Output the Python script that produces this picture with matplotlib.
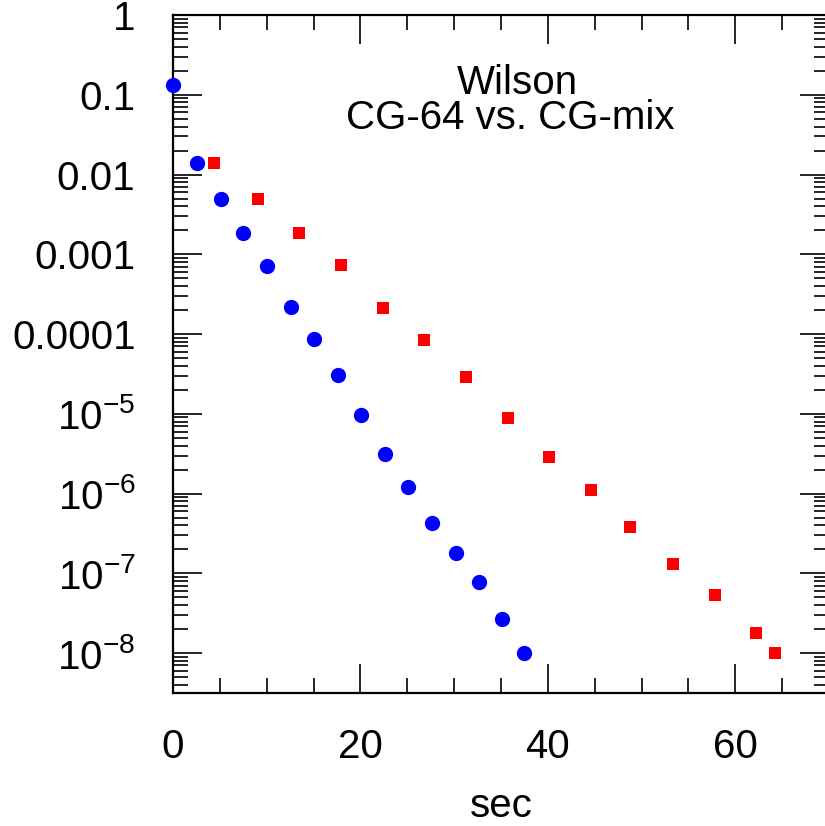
import math
import matplotlib
matplotlib.use("Agg")
import matplotlib.pyplot as plt
from matplotlib.ticker import FixedLocator, FuncFormatter, LogLocator, MultipleLocator

plt.rcParams['font.family'] = ['Liberation Sans', 'DejaVu Sans']
plt.rcParams['mathtext.fontset'] = 'custom'
plt.rcParams['mathtext.rm'] = 'Liberation Sans'
plt.rcParams['mathtext.default'] = 'regular'

# CG-64 (blue circles)
t64 = [0.0, 2.6, 5.1, 7.5, 10.0, 12.6, 15.0, 17.6, 20.1, 22.6, 25.1, 27.6, 30.2, 32.7, 35.1, 37.5]
r64 = [0.134, 0.0141, 0.0050, 0.00187, 7.2e-4, 2.2e-4, 8.7e-5, 3.1e-5, 9.7e-6, 3.1e-6,
       1.2e-6, 4.3e-7, 1.8e-7, 7.7e-8, 2.7e-8, 1.0e-8]
# CG-mix (red squares)
tmix = [4.4, 9.1, 13.4, 17.9, 22.4, 26.8, 31.3, 35.8, 40.1, 44.6, 48.8, 53.4, 57.8, 62.2, 64.2]
rmix = [0.014, 0.0050, 0.00187, 7.3e-4, 2.1e-4, 8.4e-5, 2.9e-5, 8.8e-6, 2.9e-6, 1.1e-6,
        3.8e-7, 1.3e-7, 5.3e-8, 1.8e-8, 1.0e-8]

title_lines = ["Wilson", "CG-64 vs. CG-mix"]
xlabel = "sec"

W, H = 825, 826
FS = 29
fig = plt.figure(figsize=(W / 100, H / 100), dpi=100)
ax = fig.add_axes([173 / W, (H - 693) / H, (829 - 173) / W, (693 - 15) / H])

ax.plot(t64, r64, 'o', color='#0000ff', markersize=11, markeredgewidth=0, clip_on=False, zorder=3)
ax.plot(tmix, rmix, 's', color='#ff0000', markersize=8.5, markeredgewidth=0, clip_on=False, zorder=3)

ax.set_yscale('log')
ax.set_xlim(0, 70)
ax.set_ylim(10 ** -8.5, 1)

ax.xaxis.set_major_locator(MultipleLocator(20))
ax.xaxis.set_minor_locator(MultipleLocator(5))
ax.yaxis.set_major_locator(FixedLocator([10.0 ** k for k in range(-8, 1)]))
ax.yaxis.set_minor_locator(LogLocator(base=10, subs=range(2, 10), numticks=30))


def yfmt(v, pos):
    names = {1: "1", 0.1: "0.1", 0.01: "0.01", 0.001: "0.001", 0.0001: "0.0001"}
    for k, s in names.items():
        if abs(v - k) < k * 1e-6:
            return s
    e = int(round(math.log10(v)))
    return r"$10^{%d}$" % e


ax.yaxis.set_major_formatter(FuncFormatter(yfmt))
ax.yaxis.set_minor_formatter(FuncFormatter(lambda v, p: ""))

ax.tick_params(which='both', direction='in', top=True, right=True, width=1.2, color='black')
ax.tick_params(which='major', length=21)
ax.tick_params(which='minor', length=11)
ax.tick_params(axis='y', which='major', pad=27, labelsize=FS)
ax.tick_params(axis='x', which='major', pad=25, labelsize=FS)

for sp in ax.spines.values():
    sp.set_linewidth(1.6)

# x-axis label, baseline placed near bottom edge as in reference
fig.text((173 + 829) / 2 / W, (H - 817) / H, xlabel, ha='center', va='baseline', fontsize=FS)

ax.text((517 - 173) / 656, (693 - 94) / 678, title_lines[0], transform=ax.transAxes,
        ha='center', va='baseline', fontsize=FS)
ax.text((510 - 173) / 656, (693 - 129) / 678, title_lines[1], transform=ax.transAxes,
        ha='center', va='baseline', fontsize=FS)

fig.savefig("out.png", dpi=100)
